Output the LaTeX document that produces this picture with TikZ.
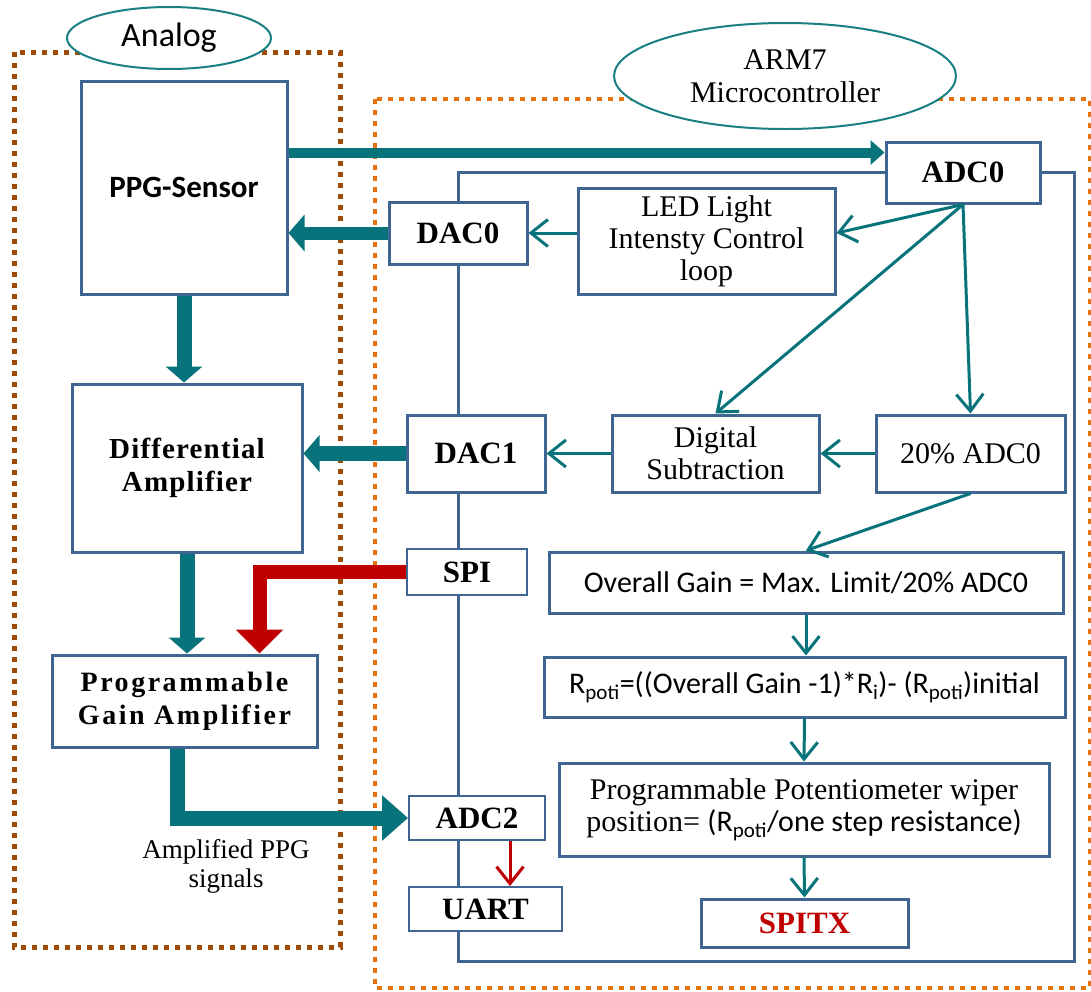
\documentclass[tikz,border=0pt]{standalone}
\usepackage{fontspec}
\setmainfont{Liberation Serif}
\newfontfamily\calib{Carlito}
\newfontfamily\widebold[LetterSpace=9]{Liberation Serif}
\newfontfamily\midbold[LetterSpace=4]{Liberation Serif}
\usetikzlibrary{arrows.meta,shapes.geometric}
\definecolor{BoxBlue}{HTML}{3F6592}
\definecolor{FlowTeal}{HTML}{08737A}
\definecolor{SigRed}{HTML}{C00000}
\definecolor{FrameBrown}{HTML}{9E4B08}
\definecolor{FrameOrange}{HTML}{E8720C}
\definecolor{OvalTeal}{HTML}{1A7F82}

\begin{document}
\begin{tikzpicture}[x=1pt, y=-1pt,
  blk/.style={draw=BoxBlue, line width=3pt, fill=white, rectangle, inner sep=0pt, align=center},
  port/.style={blk, font=\bfseries\fontsize{31}{33}\selectfont},
  calc/.style={blk, font=\fontsize{30}{32}\selectfont},
  formula/.style={blk, font=\calib\fontsize{30}{32}\selectfont},
  oval/.style={ellipse, draw=OvalTeal, line width=2pt, fill=white, inner sep=0pt, align=center},
  bigarrow/.style={FlowTeal, line width=15pt, -{Triangle[width=36pt,length=16pt]}},
  redarrow/.style={SigRed, line width=14pt, -{Triangle[width=46pt,length=24pt]}},
  flow/.style={FlowTeal, line width=3pt, -{Straight Barb[length=17pt,width=27pt]}},
  redflow/.style={SigRed, line width=3pt, -{Straight Barb[length=17pt,width=27pt]}},
  frame/.style={line width=5pt, dash pattern=on 5pt off 6pt}
]
  \useasboundingbox (0,0) rectangle (1091,991);

  % Rahmen Analog / Mikrocontroller
  \draw[frame, FrameBrown] (14,52) rectangle (340,947);
  \draw[frame, FrameOrange, line width=4pt] (375,99) rectangle (1090,988);
  \draw[BoxBlue, line width=3pt] (458,172) rectangle (1074,961);

  % Titel-Ellipsen
  \node[oval, minimum width=204, minimum height=62, font=\calib\fontsize{34}{36}\selectfont] (analog) at (169,38) {Analog};
  \node[oval, minimum width=342, minimum height=106, font=\fontsize{30}{33}\selectfont] (arm) at (785,76) {ARM7\\Microcontroller};

  % Analoge Stufen
  \node[blk, minimum width=206, minimum height=213, font=\calib\bfseries\fontsize{31}{33}\selectfont] (ppg) at (184,187.5) {PPG-Sensor};
  \node[blk, minimum width=230, minimum height=168, font=\midbold\bfseries\fontsize{29}{33}\selectfont] (diff) at (187,468) {Differential\\Amplifier};
  \node[blk, minimum width=265, minimum height=92, font=\widebold\bfseries\fontsize{28}{33}\selectfont] (pga) at (184.5,701) {Programmable\\Gain Amplifier};

  % Schnittstellen des Controllers
  \node[port, minimum width=154, minimum height=61] (adc0) at (963,172.5) {ADC0};
  \node[port, minimum width=138, minimum height=62] (dac0) at (458,233) {DAC0};
  \node[port, minimum width=138, minimum height=77] (dac1) at (476,453.5) {DAC1};
  \node[port, minimum width=120, minimum height=46, line width=2pt] (spi) at (467,572) {SPI};
  \node[port, minimum width=136, minimum height=44, line width=2pt] (adc2) at (477,818) {ADC2};
  \node[port, minimum width=153, minimum height=44, line width=2pt] (uart) at (485.5,909) {UART};

  % Verarbeitung
  \node[calc, minimum width=257, minimum height=106] (led) at (706.5,241) {LED Light\\Intensty Control\\loop};
  \node[calc, minimum width=207, minimum height=77] (digsub) at (715.5,453.5) {Digital\\Subtraction};
  \node[calc, minimum width=189, minimum height=77] (pct) at (970.5,453.5) {20\% ADC0};
  \node[formula, minimum width=514, minimum height=61] (gain) at (806,582.5) {Overall Gain = Max. Limit/20\% ADC0};
  \node[formula, minimum width=521, minimum height=60] (rpoti) at (804.5,687) {R\textsubscript{poti}=((Overall Gain -1)*R\textsubscript{i})- (R\textsubscript{poti})initial};
  \node[calc, minimum width=490, minimum height=93] (pot) at (804,809.5) {Programmable Potentiometer wiper\\position= {\calib(R\textsubscript{poti}/one step resistance)}};
  \node[port, minimum width=207, minimum height=48, text=SigRed] (spitx) at (804.5,923) {SPITX};

  \node[align=center, font=\fontsize{27}{29}\selectfont] (amptxt) at (226,866) {Amplified PPG\\signals};

  % Dicke Signalpfeile
  \coordinate (s1) at ([yshift=35pt]ppg.east);
  \draw[bigarrow, line width=10pt, -{Triangle[width=24pt,length=14pt]}] (s1) -- (s1 -| adc0.west);
  \draw[bigarrow, line width=13pt] (dac0.west) -- (dac0.west -| ppg.east);
  \draw[bigarrow] (dac1.west) -- (dac1.west -| diff.east);
  \draw[bigarrow] (ppg.south) -- (ppg.south |- diff.north);
  \draw[bigarrow] (diff.south) -- (diff.south |- pga.north);
  \draw[redarrow] (spi.west) -| ([xshift=75pt]pga.north);
  \draw[bigarrow, -{Triangle[width=44pt,length=26pt]}] ([xshift=-7pt]pga.south) |- (adc2.west);
  \coordinate (r1) at ([xshift=33pt]adc2.south);
  \draw[redflow] (r1) -- (r1 |- uart.north);

  % Datenfluss im Controller
  \draw[flow] (led.west |- dac0.east) -- (dac0.east);
  \draw[flow] (adc0.south) -- ([yshift=8pt]led.east);
  \draw[flow] (adc0.south) -- (digsub.north);
  \draw[flow] (adc0.south) -- (pct.north);
  \draw[flow] (pct.west) -- (digsub.east);
  \draw[flow] (digsub.west) -- (dac1.east);
  \draw[flow] (pct.south) -- (gain.north);
  \draw[flow] (gain.south) -- (gain.south |- rpoti.north);
  \draw[flow] (rpoti.south) -- (pot.north);
  \draw[flow] (pot.south) -- (spitx.north);

\end{tikzpicture}
\end{document}
